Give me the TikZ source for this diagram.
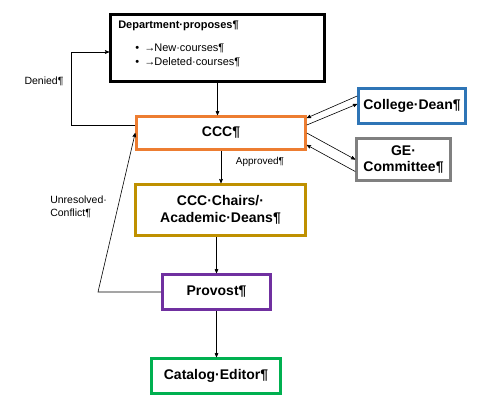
\documentclass[tikz,border=0pt]{standalone}
\usepackage{fontspec}
\setmainfont{Liberation Sans}
\usetikzlibrary{arrows}

\definecolor{cccorange}{RGB}{237,125,49}
\definecolor{deanblue}{RGB}{46,117,182}
\definecolor{gegray}{RGB}{128,128,128}
\definecolor{chairgold}{RGB}{191,144,0}
\definecolor{provpurple}{RGB}{112,48,160}
\definecolor{catgreen}{RGB}{0,176,80}

\begin{document}
\begin{tikzpicture}[->,>=stealth',x=1pt,y=-1pt,line width=0.6pt,
  box node/.style={rectangle,draw,line width=2.6pt,align=center,
  font=\fontsize{14}{16.5}\selectfont\bfseries,inner sep=0pt},
  label node/.style={font=\fontsize{10.5}{13}\selectfont,
  align=left,inner sep=0pt}]

  \useasboundingbox (0,0) rectangle (480,404);

  \node[box node,minimum width=214pt,minimum height=67pt] (dept) at (217.5,48) {};
  \node[box node,draw=cccorange,minimum width=169pt,minimum height=33pt] (ccc) at (221,133) {CCC¶};
  \node[box node,draw=deanblue,minimum width=107pt,minimum height=35pt] (dean) at (412,106) {College·Dean¶};
  \node[box node,draw=gegray,minimum width=94pt,minimum height=42pt] (ge) at (403.5,159.5) {GE·\\Committee¶};
  \node[box node,draw=chairgold,minimum width=170pt,minimum height=51pt] (chairs) at (220.5,210) {CCC·Chairs/·\\Academic·Deans¶};
  \node[box node,draw=provpurple,minimum width=108pt,minimum height=35pt] (provost) at (216.5,292) {Provost¶};
  \node[box node,draw=catgreen,minimum width=129pt,minimum height=35pt] (catalog) at (216,376) {Catalog·Editor¶};

  % text inside the department box
  \node[anchor=base west,inner sep=0pt,font=\fontsize{11}{13}\selectfont\bfseries] (title) at (118,29) {Department·proposes¶};
  \node[anchor=base west,inner sep=0pt,font=\fontsize{11}{13}\selectfont] (item1) at (135,52) {\makebox[9pt][l]{•}\makebox[10pt][l]{→}New·courses¶};
  \node[anchor=base west,inner sep=0pt,font=\fontsize{11}{13}\selectfont] (item2) at (135,66) {\makebox[9pt][l]{•}\makebox[10pt][l]{→}Deleted·courses¶};

  \coordinate (dn1) at (71,125);
  \coordinate (dn2) at (71,52);
  \coordinate (uc) at (98,292);

  % main chain, top to bottom
  \draw (dept.south) -- (dept.south |- ccc.north);
  \draw (ccc.south) -- (ccc.south |- chairs.north);
  \draw (provost.north |- chairs.south) -- (provost.north);
  \draw (provost.south) -- (provost.south |- catalog.north);

  % side reviews
  \draw ([yshift=10pt]dean.west) -- ([yshift=15pt]ccc.east);
  \draw ([yshift=8pt]ccc.east) -- ([yshift=2pt]dean.west);
  \draw (ccc.east) -- (ge.west);
  \draw ([yshift=-12pt]ge.west) -- ([yshift=-12pt]ccc.east);

  % loops back
  \draw (ccc.west |- dn1) -- (dn1) -- (dn2) -- (dept.west |- dn2);
  \draw (provost.west) -- (uc) -- (ccc.west);

  \node[label node] (denied) at (44,81) {Denied¶};
  \node[label node,font=\fontsize{10}{12}\selectfont] (approved) at (260,162) {Approved¶};
  \node[label node,anchor=west] (conflict) at (50,207) {Unresolved·\\Conflict¶};
\end{tikzpicture}
\end{document}
